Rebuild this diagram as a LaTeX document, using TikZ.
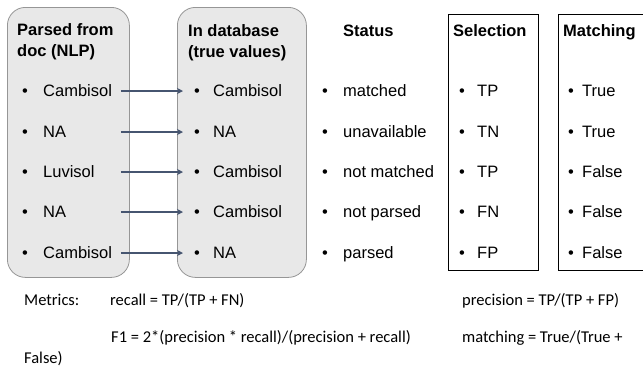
\documentclass[tikz,border=0pt]{standalone}
\usepackage{fontspec}
\setmainfont{Liberation Sans}
\newfontfamily\metricsfont{Carlito}
\usetikzlibrary{arrows.meta}
\definecolor{boxgray}{RGB}{232,232,232}
\definecolor{boxedge}{RGB}{150,150,150}
\definecolor{linkblue}{RGB}{70,85,112}

\begin{document}
\begin{tikzpicture}[x=1pt,y=-1pt,
    every node/.style={inner sep=0pt,font=\fontsize{16.5}{21}\selectfont},
    head/.style={font=\fontsize{16.5}{21}\selectfont\bfseries},
    item/.style={anchor=west,text height=11.8pt,text depth=0pt},
    colbox/.style={draw=boxedge,fill=boxgray,line width=0.8pt,rounded corners=18pt,anchor=north west},
    tabbox/.style={draw=black,line width=0.7pt,anchor=north west},
    metric/.style={anchor=base west,font=\fontsize{16.5}{20}\selectfont\metricsfont},
    link/.style={draw=linkblue,line width=1.4pt,-{Stealth[length=6pt,width=6pt]}}]
          \useasboundingbox (0,0) rectangle (643,373);
          % columns
          \node[colbox,minimum width=122pt,minimum height=270pt] (pbox) at (7,7) {};
          \node[colbox,minimum width=129pt,minimum height=270pt] (dbox) at (177,7) {};
          \node[tabbox,minimum width=90pt,minimum height=256pt] (selbox) at (448,14) {};
          \node[tabbox,minimum width=84.5pt,minimum height=256pt] (matbox) at (558,14) {};
          % headings
          \node[head,anchor=north west,align=left] (phead) at (17,23) {Parsed from\\doc (NLP)};
          \node[head,anchor=north west,align=left] (dhead) at (188,24) {In database\\(true values)};
          \node[head,anchor=base west] (shead) at (343,36) {Status};
          \node[head,anchor=base west] (chead) at (453,36) {Selection};
          \node[head,anchor=base west] (mhead) at (563,36) {Matching};
          % rows
          \foreach \i/\y/\pa/\db/\st/\se/\ma in {1/91/Cambisol/Cambisol/matched/TP/True,
              2/132/NA/NA/unavailable/TN/True, 3/172/Luvisol/Cambisol/not matched/TP/False,
              4/212/NA/Cambisol/not parsed/FN/False, 5/253/Cambisol/NA/parsed/FP/False}{
            \node[item] (p\i) at (22,\y) {\makebox[21pt][l]{\textbullet}\pa};
            \node[item] (d\i) at (194,\y) {\makebox[19pt][l]{\textbullet}\db};
            \node[item] (s\i) at (322,\y) {\makebox[21pt][l]{\textbullet}\st};
            \node[item] (c\i) at (459,\y) {\makebox[18pt][l]{\textbullet}\se};
            \node[item] (m\i) at (568,\y) {\makebox[14pt][l]{\textbullet}\ma};
            \draw[link] ([xshift=-9pt]pbox.east |- p\i.west) -- ([xshift=-11pt]d\i.west);
          }
          % metrics
          \node[metric] (mlabel) at (24,305) {Metrics:};
          \node[metric] (recall) at (110,305) {recall = TP/(TP + FN)};
          \node[metric] (prec) at (462,305) {precision = TP/(TP + FP)};
          \node[metric] (fone) at (111,342) {F1 = 2*(precision * recall)/(precision + recall)};
          \node[metric] (matchf) at (462,342) {matching = True/(True +};
          \node[metric] (mfalse) at (24,363) {False)};
        \end{tikzpicture}
\end{document}
